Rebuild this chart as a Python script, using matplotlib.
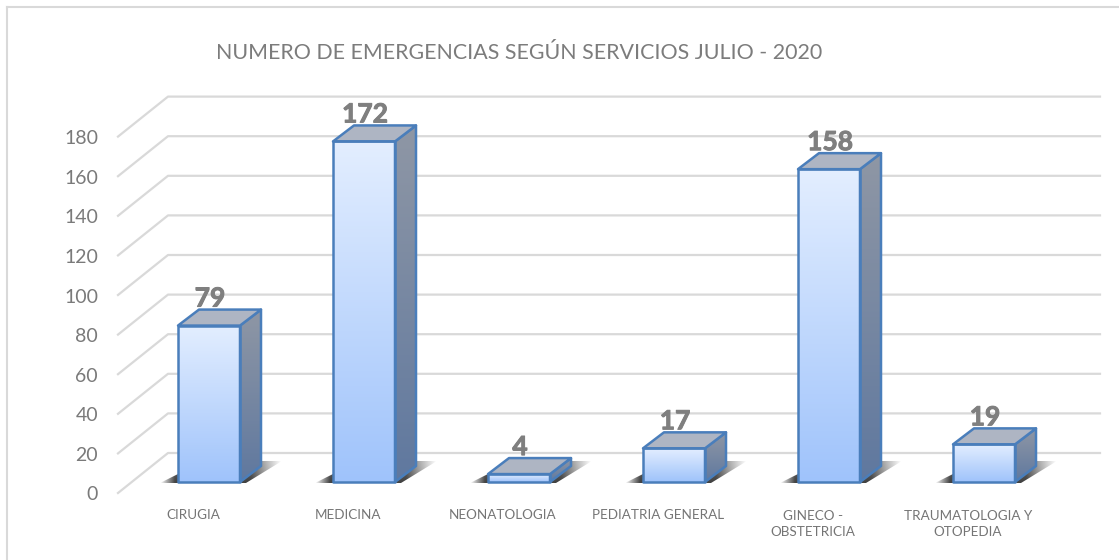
import matplotlib
matplotlib.use('Agg')
import matplotlib.pyplot as plt
import matplotlib.patheffects as pe
import numpy as np
from matplotlib.patches import Polygon
from matplotlib.colors import LinearSegmentedColormap

categorias = ['CIRUGIA', 'MEDICINA', 'NEONATOLOGIA', 'PEDIATRIA GENERAL', 'GINECO -\nOBSTETRICIA', 'TRAUMATOLOGIA Y\nOTOPEDIA']
valores = [79, 172, 4, 17, 158, 19]
ticks_y = [0, 20, 40, 60, 80, 100, 120, 140, 160, 180]
titulo = 'NUMERO DE EMERGENCIAS SEGÚN SERVICIOS JULIO - 2020'

plt.rcParams['font.family'] = ['Lato', 'DejaVu Sans']

W, H = 1119, 560
PX_X = 155.0   # pixels per category
PX_Y = 1.98    # pixels per value unit
X0, Y0 = 209.0, 482.0  # pixel of category 0, value 0 on the bar plane

fig = plt.figure(figsize=(W / 100, H / 100), dpi=100)
ax = fig.add_axes([0, 0, 1, 1])
ax.axis('off')

dx = lambda p: p / PX_X
dy = lambda p: p / PX_Y

# outer frame, runs off the picture on the right and the bottom
ax.plot([dx(7 - X0), dx(7 - X0)], [dy(Y0 - 560), dy(Y0 - 7)], color='#d9d9d9', lw=1.5)
ax.plot([dx(7 - X0), dx(W - X0)], [dy(Y0 - 7), dy(Y0 - 7)], color='#d9d9d9', lw=1.5)

# gridlines: slanted floor part and back wall
izq_f, izq_b, der = dx(118 - X0), dx(168 - X0), dx(1100 - X0)
off_f, off_b = dy(-11), dy(29)
for t in ticks_y:
    ax.plot([izq_f, izq_b, der], [t + off_f, t + off_b, t + off_b], color='#d9d9d9', lw=1.6, zorder=1)
    ax.text(dx(98 - X0), t + dy(-13), str(t), ha='right', va='center', fontsize=14, color='#7a7a7a')

cmap_frente = LinearSegmentedColormap.from_list('f', ['#e3eeff', '#9fc3fb'])
cmap_lado = LinearSegmentedColormap.from_list('l', ['#8f97a5', '#5f789f'])
grad = np.linspace(0, 1, 256).reshape(-1, 1)
ancho, prof_x, prof_y = dx(62), dx(21), dy(16)

for i, (cat, v) in enumerate(zip(categorias, valores)):
    x0 = i - dx(31)
    x1 = x0 + ancho

    # soft shadow on the floor
    sombra = np.zeros((8, 128, 4))
    sombra[..., :3] = 0.22
    sombra[..., 3] = np.outer(np.linspace(0.75, 0.95, 8), np.interp(np.linspace(0, 1, 128), [0, 0.12, 0.75, 1], [0, 1, 1, 0]))
    im = ax.imshow(sombra, extent=[x0 - dx(18), x1 + dx(42), dy(-1), dy(21)], origin='upper', aspect='auto', zorder=2, interpolation='bilinear')
    im.set_clip_path(Polygon([[x0 - dx(18), dy(-1)], [x1 + dx(6), dy(-1)], [x1 + dx(42), dy(21)], [x0 + dx(26), dy(21)]], transform=ax.transData))

    # front face
    cara = Polygon([[x0, 0], [x1, 0], [x1, v], [x0, v]], closed=True, fc='none', ec='#4a7ebb', lw=1.8, zorder=5, joinstyle='round')
    ax.add_patch(cara)
    im = ax.imshow(grad, extent=[x0, x1, 0, v], origin='upper', aspect='auto', cmap=cmap_frente, zorder=3)
    im.set_clip_path(cara)

    # side face
    lado = Polygon([[x1, 0], [x1 + prof_x, prof_y], [x1 + prof_x, v + prof_y], [x1, v]], closed=True, fc='none', ec='#4a7ebb', lw=1.8, zorder=4, joinstyle='round')
    ax.add_patch(lado)
    im = ax.imshow(grad, extent=[x1, x1 + prof_x, 0, v + prof_y], origin='upper', aspect='auto', cmap=cmap_lado, zorder=3)
    im.set_clip_path(lado)

    # top face
    ax.add_patch(Polygon([[x0, v], [x1, v], [x1 + prof_x, v + prof_y], [x0 + prof_x, v + prof_y]], closed=True, fc='#aeb5c3', ec='#4a7ebb', lw=1.8, zorder=4, joinstyle='round'))

    ax.text(i + dx(1), v + dy(27), str(v), ha='center', va='center', fontsize=19, fontweight='bold', color='#7f7f7f', zorder=6,
            path_effects=[pe.withStroke(linewidth=0.7, foreground='#7f7f7f')])
    y_cat = dy(Y0 - 515) if '\n' not in cat else dy(Y0 - 524)
    ax.text(i - dx(16), y_cat, cat, ha='center', va='center', fontsize=9.7, color='#757575', linespacing=1.4)

ax.text(dx(519 - X0), dy(Y0 - 53), titulo, ha='center', va='center', fontsize=15.4, color='#7c7c7c')
ax.set_xlim(-X0 / PX_X, (W - X0) / PX_X)
ax.set_ylim((Y0 - H) / PX_Y, Y0 / PX_Y)

fig.savefig('out.png', dpi=100)
